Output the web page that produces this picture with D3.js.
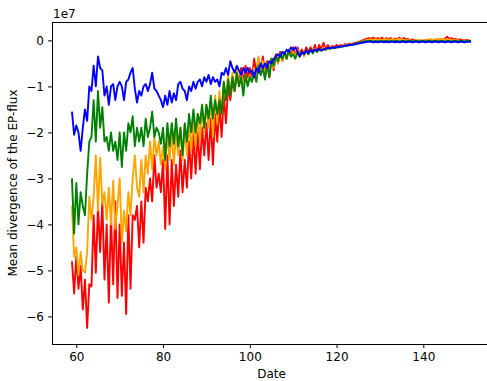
<!DOCTYPE html>
<html>
<head>
<meta charset="utf-8">
<script src="https://cdn.jsdelivr.net/npm/d3@7"></script>
<style>
  body { margin: 0; background: #fff; }
  svg { display: block; font-family: "DejaVu Sans", sans-serif; }
</style>
</head>
<body>
<div id="d3-container"></div>
<script>
// days 59 .. 151, half-day steps; values in units of 1e7
const startDay = 59, dayStep = 0.5
const xTicks = [60, 80, 100, 120, 140]
const yTicks = [-6, -5, -4, -3, -2, -1, 0]

const redSeries = [
  -4.8, -5.5, -4.7, -5.4, -4.9, -5.85, -5.2, -6.25, -5.3, -5.35,
  -3.8, -5.05, -3.6, -4.6, -3.5, -5.2, -4.0, -5.7, -3.8, -5.3,
  -3.5, -5.6, -4.0, -5.55, -4.4, -5.95, -3.8, -5.4, -3.8, -3.9,
  -3.6, -4.5, -3.5, -4.4, -3.2, -3.5, -3.0, -3.5, -2.5, -3.2,
  -2.9, -3.3, -2.6, -4.1, -2.5, -4.0, -2.6, -3.6, -2.7, -3.4,
  -2.4, -3.3, -2.6, -3.2, -2.2, -3.0, -2.0, -2.9, -2.0, -2.8,
  -1.9, -2.5, -1.8, -2.6, -1.7, -2.7, -1.6, -2.2, -1.4, -2.1,
  -1.2, -1.8, -1.0, -1.3, -0.9, -1.1, -0.7, -0.95, -0.6, -0.9,
  -0.55, -0.8, -0.6, -0.85, -0.4, -0.7, -0.4, -0.75, -0.35, -0.7,
  -0.45, -0.8, -0.4, -0.65, -0.3, -0.5, -0.25, -0.45, -0.25, -0.4,
  -0.2, -0.35, -0.15, -0.35, -0.15, -0.3, -0.2, -0.3, -0.15, -0.25,
  -0.15, -0.25, -0.1, -0.25, -0.1, -0.2, -0.05, -0.2, -0.1, -0.18,
  -0.12, -0.15, -0.1, -0.13, -0.1, -0.12, -0.08, -0.1, -0.07, -0.09,
  -0.06, -0.05, -0.04, -0.02, 0.0, 0.02, 0.04, 0.05, 0.04, 0.06,
  0.03, 0.05, 0.03, 0.06, 0.02, 0.05, 0.03, 0.05, 0.02, 0.04,
  0.03, 0.06, 0.02, 0.05, 0.02, 0.03, 0.0, 0.02, 0.0, 0.01,
  -0.01, 0.0, -0.01, 0.01, 0.0, 0.02, 0.0, 0.01, 0.02, 0.01,
  0.02, 0.03, 0.04, 0.08, 0.03, 0.05, 0.02, 0.03, 0.01, 0.02,
  0.01, 0.0, 0.01, 0.0, -0.01
]

const orangeSeries = [
  -3.6, -4.7, -4.5, -5.1, -4.6, -5.0, -5.05, -4.6, -3.4, -3.9,
  -3.4, -2.5, -3.7, -2.55, -3.55, -3.3, -3.9, -3.2, -4.0, -3.05,
  -4.1, -3.6, -3.0, -4.4, -3.7, -4.15, -3.3, -3.8, -3.0, -2.5,
  -3.2, -3.4, -2.6, -3.3, -2.5, -2.9, -2.2, -2.8, -2.1, -2.5,
  -2.2, -2.7, -2.3, -2.8, -2.0, -2.6, -2.0, -2.7, -2.0, -2.5,
  -1.9, -2.6, -1.85, -2.5, -1.8, -2.4, -1.7, -2.3, -1.6, -2.2,
  -1.5, -2.0, -1.4, -1.9, -1.3, -2.1, -1.2, -1.8, -1.1, -1.6,
  -0.9, -1.3, -0.75, -1.2, -0.7, -1.1, -0.6, -1.0, -0.7, -0.95,
  -0.75, -0.95, -0.75, -0.9, -0.6, -0.7, -0.35, -0.7, -0.45, -0.8,
  -0.5, -0.8, -0.4, -0.6, -0.35, -0.5, -0.3, -0.45, -0.25, -0.4,
  -0.22, -0.35, -0.25, -0.35, -0.2, -0.32, -0.25, -0.35, -0.22, -0.3,
  -0.2, -0.28, -0.18, -0.25, -0.18, -0.22, -0.15, -0.2, -0.15, -0.18,
  -0.14, -0.17, -0.14, -0.15, -0.13, -0.13, -0.11, -0.12, -0.1, -0.09,
  -0.08, -0.07, -0.05, -0.04, -0.02, 0.0, 0.01, 0.02, 0.02, 0.01,
  0.03, 0.01, 0.02, 0.01, 0.03, 0.02, 0.01, 0.02, 0.03, 0.01,
  0.02, 0.03, 0.02, 0.01, 0.0, 0.01, 0.0, -0.01, 0.0, 0.01,
  0.0, -0.01, 0.0, 0.01, 0.02, 0.01, 0.02, 0.01, 0.02, 0.03,
  0.02, 0.03, 0.02, 0.01, 0.02, 0.01, 0.0, 0.01, 0.0, -0.01,
  0.0, 0.0, -0.01, 0.0, -0.01
]

const greenSeries = [
  -3.0, -4.2, -3.1, -4.0, -3.3, -3.6, -3.8, -2.9, -2.2, -2.1,
  -1.3, -2.2, -1.1, -1.9, -1.45, -2.2, -2.1, -2.4, -2.0, -2.4,
  -2.2, -2.6, -2.0, -2.75, -2.0, -2.4, -1.8, -2.0, -1.65, -2.3,
  -1.9, -2.2, -1.9, -2.3, -1.7, -2.1, -1.9, -1.55, -2.1, -1.9,
  -2.0, -2.25, -1.9, -2.6, -1.8, -2.3, -1.8, -2.25, -1.7, -2.3,
  -1.9, -2.5, -1.8, -2.2, -1.6, -2.0, -1.5, -2.0, -1.6, -1.8,
  -1.4, -1.9, -1.4, -1.7, -1.2, -1.7, -1.3, -1.6, -1.3, -1.6,
  -0.9, -1.3, -0.85, -1.2, -0.8, -1.1, -0.7, -1.0, -0.8, -1.2,
  -0.75, -1.0, -0.8, -0.9, -0.7, -0.9, -0.55, -0.75, -0.6, -0.85,
  -0.5, -0.8, -0.4, -0.55, -0.35, -0.45, -0.3, -0.4, -0.25, -0.4,
  -0.2, -0.35, -0.3, -0.4, -0.25, -0.35, -0.25, -0.3, -0.22, -0.3,
  -0.2, -0.28, -0.2, -0.25, -0.2, -0.22, -0.18, -0.2, -0.17, -0.18,
  -0.16, -0.17, -0.15, -0.15, -0.14, -0.13, -0.12, -0.11, -0.1, -0.09,
  -0.08, -0.07, -0.05, -0.04, -0.03, -0.02, -0.02, -0.01, -0.01, -0.02,
  -0.01, -0.02, -0.01, -0.02, -0.01, -0.01, -0.02, -0.01, -0.02, -0.01,
  -0.01, -0.02, -0.01, -0.01, -0.02, -0.01, -0.01, -0.02, -0.01, -0.01,
  -0.02, -0.01, -0.01, -0.02, -0.01, -0.01, -0.02, -0.01, -0.01, -0.02,
  -0.01, -0.01, -0.02, -0.01, -0.01, -0.02, -0.01, -0.01, -0.02, -0.01,
  -0.01, -0.02, -0.01, -0.01, -0.01
]

const blueSeries = [
  -1.55, -2.05, -1.85, -2.0, -2.4, -1.9, -1.5, -1.75, -1.0, -1.1,
  -0.55, -1.0, -0.35, -0.6, -0.65, -1.2, -1.0, -1.4, -1.0, -0.95,
  -1.3, -1.0, -0.9, -1.0, -1.3, -0.9, -0.85, -0.7, -0.6, -1.05,
  -1.35, -1.1, -1.2, -1.0, -0.95, -1.1, -0.95, -0.7, -1.05, -1.1,
  -1.2, -1.3, -1.45, -1.2, -1.4, -1.1, -1.35, -1.15, -1.3, -0.95,
  -0.9, -1.05, -1.1, -1.3, -1.0, -1.1, -0.9, -1.05, -0.9, -0.85,
  -1.0, -0.8, -0.9, -0.75, -0.95, -0.8, -0.9, -0.85, -1.0, -0.7,
  -0.75, -0.6, -0.75, -0.45, -0.6, -0.7, -0.55, -0.65, -0.75, -0.6,
  -0.7, -0.6, -0.7, -0.65, -0.8, -0.6, -0.7, -0.5, -0.6, -0.5,
  -0.6, -0.45, -0.5, -0.4, -0.35, -0.3, -0.35, -0.25, -0.3, -0.2,
  -0.25, -0.15, -0.2, -0.15, -0.25, -0.35, -0.25, -0.3, -0.22, -0.28,
  -0.2, -0.25, -0.2, -0.22, -0.18, -0.22, -0.2, -0.18, -0.16, -0.17,
  -0.15, -0.16, -0.15, -0.14, -0.13, -0.13, -0.12, -0.11, -0.1, -0.1,
  -0.09, -0.08, -0.07, -0.06, -0.05, -0.04, -0.03, -0.03, -0.03, -0.04,
  -0.03, -0.04, -0.03, -0.03, -0.04, -0.03, -0.04, -0.03, -0.03, -0.04,
  -0.03, -0.04, -0.03, -0.03, -0.04, -0.03, -0.03, -0.04, -0.03, -0.03,
  -0.04, -0.03, -0.03, -0.04, -0.03, -0.03, -0.04, -0.03, -0.03, -0.04,
  -0.03, -0.03, -0.04, -0.03, -0.03, -0.04, -0.03, -0.03, -0.04, -0.03,
  -0.03, -0.04, -0.03, -0.03, -0.03
]

// drawn in this order, blue ends up on top
const seriesList = [
  { values: redSeries, color: 'red' },
  { values: orangeSeries, color: 'orange' },
  { values: greenSeries, color: 'green' },
  { values: blueSeries, color: 'blue' }
]

const width = 487
const height = 381
const margin = { top: 22, bottom: 37, left: 52, right: -4 }
const fontSize = '12px'

const svg = d3.select('#d3-container')
    .append('svg')
    .attr('width', width)
    .attr('height', height)

const x = d3.scaleLinear()
    .domain([54.4, 155.6])
    .range([margin.left, width - margin.right])

const y = d3.scaleLinear()
    .domain([-6.6, 0.4])
    .range([height - margin.bottom, margin.top])

const line = d3.line()
    .x((d, i) => x(startDay + i * dayStep))
    .y(d => y(d))

svg.append('g')
    .selectAll('path')
    .data(seriesList)
    .join('path')
    .attr('fill', 'none')
    .attr('stroke', d => d.color)
    .attr('stroke-width', 1.9)
    .attr('stroke-linejoin', 'round')
    .attr('d', d => line(d.values))

function xAxis(g) {
    g.attr('transform', `translate(0,${height - margin.bottom})`)
        .call(d3.axisBottom(x).tickValues(xTicks).tickSize(4).tickPadding(4).tickFormat(d3.format('d')))
        .attr('font-size', fontSize)
        .attr('font-family', '"DejaVu Sans", sans-serif')
    g.select('.domain').remove()
}

function yAxis(g) {
    g.attr('transform', `translate(${margin.left},0)`)
        .call(d3.axisLeft(y).tickValues(yTicks).tickSize(4).tickPadding(4).tickFormat(d3.format('d')))
        .attr('font-size', fontSize)
        .attr('font-family', '"DejaVu Sans", sans-serif')
    g.select('.domain').remove()
}

svg.append('g').call(xAxis)
svg.append('g').call(yAxis)

// frame around the plot area
svg.append('rect')
    .attr('x', margin.left)
    .attr('y', margin.top)
    .attr('width', width - margin.right - margin.left)
    .attr('height', height - margin.bottom - margin.top)
    .attr('fill', 'none')
    .attr('stroke', 'black')
    .attr('stroke-width', 1)
    .attr('shape-rendering', 'crispEdges')

svg.append('text')
    .attr('x', margin.left + 1)
    .attr('y', 18)
    .attr('font-size', fontSize)
    .text('1e7')

svg.append('text')
    .attr('x', (margin.left + width - margin.right) / 2)
    .attr('y', 378)
    .attr('text-anchor', 'middle')
    .attr('font-size', fontSize)
    .text('Date')

svg.append('text')
    .attr('transform', `translate(17,${(margin.top + height - margin.bottom) / 2}) rotate(-90)`)
    .attr('text-anchor', 'middle')
    .attr('font-size', fontSize)
    .text('Mean divergence of the EP-flux')
</script>
</body>
</html>
